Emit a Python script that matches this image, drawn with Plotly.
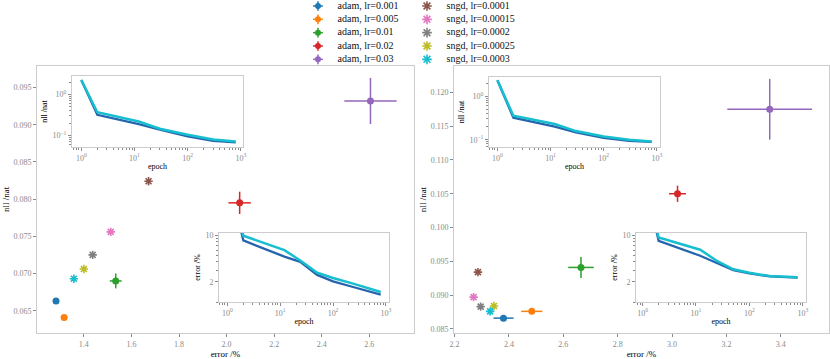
import plotly.graph_objects as go

# ---- data ----
adam_labels = ["adam, lr=0.001", "adam, lr=0.005", "adam, lr=0.01", "adam, lr=0.02", "adam, lr=0.03"]
sngd_labels = ["sngd, lr=0.0001", "sngd, lr=0.00015", "sngd, lr=0.0002", "sngd, lr=0.00025", "sngd, lr=0.0003"]
adam_colors = ["#1f77b4", "#ff7f0e", "#2ca02c", "#d62728", "#9467bd"]
sngd_colors = ["#8c564b", "#e377c2", "#7f7f7f", "#bcbd22", "#17becf"]

# left panel: final error /% and nll /nat
left_adam_err = [1.283, 1.317, 1.534, 2.055, 2.605]
left_adam_nll = [0.0663, 0.0641, 0.0690, 0.0795, 0.0932]
left_adam_err_sd = [0.006, 0.006, 0.025, 0.047, 0.11]
left_adam_nll_sd = [0.0002, 0.0002, 0.0010, 0.0015, 0.0031]
left_sngd_err = [1.672, 1.513, 1.437, 1.400, 1.358]
left_sngd_nll = [0.0824, 0.0756, 0.0725, 0.0706, 0.0693]

# right panel
right_adam_err = [2.380, 2.484, 2.665, 3.020, 3.359]
right_adam_nll = [0.0866, 0.0876, 0.0941, 0.1050, 0.1175]
right_adam_err_sd = [0.037, 0.039, 0.047, 0.031, 0.156]
right_adam_nll_sd = [0.0002, 0.0004, 0.00155, 0.0012, 0.0045]
right_sngd_err = [2.286, 2.270, 2.296, 2.345, 2.331]
right_sngd_nll = [0.0934, 0.0897, 0.0883, 0.0884, 0.0876]

# inset training curves
nll_epochs = [1, 2, 12, 30, 100, 300, 800]
left_nll_adam = [2.28, 0.32, 0.19, 0.138, 0.095, 0.074, 0.0675]
left_nll_sngd = [2.28, 0.37, 0.22, 0.146, 0.104, 0.080, 0.0715]
right_nll_adam = [2.31, 0.32, 0.20, 0.147, 0.111, 0.095, 0.089]
right_nll_sngd = [2.31, 0.355, 0.23, 0.158, 0.119, 0.100, 0.091]

err_epochs = [1, 2, 12, 24, 50, 100, 240, 800]
left_errc_adam = [88, 8.4, 4.8, 4.0, 2.55, 2.04, 1.68, 1.29]
left_errc_sngd = [88, 9.9, 6.0, 4.2, 2.75, 2.29, 1.89, 1.41]
right_errc_adam = [88, 8.3, 4.95, 3.85, 3.0, 2.7, 2.42, 2.33]
right_errc_sngd = [88, 9.3, 6.1, 4.2, 3.1, 2.75, 2.45, 2.36]

epoch_ticks = [1, 10, 100, 1000]
epoch_ticktext = ["10<sup>0</sup>", "10<sup>1</sup>", "10<sup>2</sup>", "10<sup>3</sup>"]
nll_ticks = [0.1, 1]
nll_ticktext = ["10<sup>\u22121</sup>", "10<sup>0</sup>"]
err_ticks = [2, 10]
err_ticktext = ["2", "10"]

FONT = "Liberation Serif, Times New Roman, serif"
GRID = "#cccccc"
TICKC = "#8a8a8a"
BLUE_CURVE = "#2565ad"
CYAN_CURVE = "#17becf"

W, H = 830, 359


def dom_x(a, b):
    return [a / W, b / W]


def dom_y(top, bottom):
    return [(H - bottom) / H, (H - top) / H]


fig = go.Figure()


def scatter_panel(xa, ya, a_err, a_nll, a_esd, a_nsd, s_err, s_nll):
    for i in range(5):
        fig.add_trace(go.Scatter(
            x=[a_err[i]], y=[a_nll[i]], mode="markers", xaxis=xa, yaxis=ya,
            marker=dict(color=adam_colors[i], size=7),
            error_x=dict(type="data", array=[a_esd[i]], color=adam_colors[i], thickness=1.5, width=0),
            error_y=dict(type="data", array=[a_nsd[i]], color=adam_colors[i], thickness=1.5, width=0),
            showlegend=False, hoverinfo="skip"))
    for i in range(5):
        fig.add_trace(go.Scatter(
            x=[s_err[i]], y=[s_nll[i]], mode="markers", xaxis=xa, yaxis=ya,
            marker=dict(symbol="asterisk-open", size=7, color=sngd_colors[i],
                        line=dict(color=sngd_colors[i], width=1.6)),
            showlegend=False, hoverinfo="skip"))


def curve_panel(xa, ya, ep, ya_vals, yb_vals):
    fig.add_trace(go.Scatter(x=ep, y=ya_vals, mode="lines", xaxis=xa, yaxis=ya,
                             line=dict(color=BLUE_CURVE, width=2.3), showlegend=False, hoverinfo="skip"))
    fig.add_trace(go.Scatter(x=ep, y=yb_vals, mode="lines", xaxis=xa, yaxis=ya,
                             line=dict(color=CYAN_CURVE, width=2.5), showlegend=False, hoverinfo="skip"))


scatter_panel("x", "y", left_adam_err, left_adam_nll, left_adam_err_sd, left_adam_nll_sd,
              left_sngd_err, left_sngd_nll)
scatter_panel("x2", "y2", right_adam_err, right_adam_nll, right_adam_err_sd, right_adam_nll_sd,
              right_sngd_err, right_sngd_nll)
curve_panel("x3", "y3", nll_epochs, left_nll_adam, left_nll_sngd)
curve_panel("x4", "y4", err_epochs, left_errc_adam, left_errc_sngd)
curve_panel("x5", "y5", nll_epochs, right_nll_adam, right_nll_sngd)
curve_panel("x6", "y6", err_epochs, right_errc_adam, right_errc_sngd)

# legend drawn on its own small axes: column 0 = adam, column 1 = sngd
rows = list(range(5))
for i in rows:
    fig.add_trace(go.Scatter(
        x=[0], y=[i], mode="markers", xaxis="x7", yaxis="y7",
        marker=dict(color=adam_colors[i], size=6),
        error_x=dict(type="constant", value=0.045, color=adam_colors[i], thickness=1.5, width=0),
        error_y=dict(type="constant", value=0.36, color=adam_colors[i], thickness=1.5, width=0),
        showlegend=False, hoverinfo="skip"))
fig.add_trace(go.Scatter(
    x=[1] * 5, y=rows, mode="markers", xaxis="x7", yaxis="y7",
    marker=dict(symbol="asterisk-open", size=8, color=sngd_colors,
                line=dict(color=sngd_colors, width=1.6)),
    showlegend=False, hoverinfo="skip"))
fig.add_trace(go.Scatter(
    x=[0.18] * 5 + [1.18] * 5, y=rows + rows, mode="text", xaxis="x7", yaxis="y7",
    text=adam_labels + sngd_labels, textposition="middle right",
    textfont=dict(family=FONT, size=10, color="#111111"), cliponaxis=False,
    showlegend=False, hoverinfo="skip"))


def frame_axis(**kw):
    base = dict(showline=True, linecolor=GRID, linewidth=1, mirror=True, showgrid=False,
                zeroline=False, ticks="outside", ticklen=3, tickwidth=1, tickcolor=TICKC,
                tickfont=dict(family=FONT, size=8, color=TICKC), automargin=False,
                title_font=dict(family=FONT, size=9, color="black"))
    base.update(kw)
    return base


def log_minor():
    return dict(ticks="outside", ticklen=2, tickwidth=0.8, tickcolor=TICKC, dtick="D1", showgrid=False)


layout = dict(
    width=W, height=H, margin=dict(l=0, r=0, t=0, b=0),
    paper_bgcolor="white", plot_bgcolor="white",
    font=dict(family=FONT),
    # main left
    xaxis=frame_axis(domain=dom_x(37, 414), anchor="y", range=[1.203, 2.788], dtick=0.2,
                     tickformat=".1f", title=dict(text="error /%", standoff=3)),
    yaxis=frame_axis(domain=dom_y(66, 333), anchor="x", range=[0.0620, 0.0979], dtick=0.005,
                     tickformat=".3f", title=dict(text="nll /nat", standoff=2)),
    # main right
    xaxis2=frame_axis(domain=dom_x(454, 829), anchor="y2", range=[2.198, 3.577], dtick=0.2,
                      tickformat=".1f", title=dict(text="error /%", standoff=3)),
    yaxis2=frame_axis(domain=dom_y(66, 333), anchor="x2", range=[0.0844, 0.1239], dtick=0.005,
                      tickformat=".3f", title=dict(text="nll /nat", standoff=2)),
    # left nll inset
    xaxis3=frame_axis(domain=dom_x(72, 243), anchor="y3", type="log", range=[-0.175, 3.04],
                      tickvals=epoch_ticks, ticktext=epoch_ticktext, minor=log_minor(),
                      title=dict(text="epoch", standoff=1, font=dict(size=8))),
    yaxis3=frame_axis(domain=dom_y(76, 147), anchor="x3", type="log", range=[-1.283, 0.456],
                      tickvals=nll_ticks, ticktext=nll_ticktext, minor=log_minor(),
                      title=dict(text="nll /nat", standoff=3, font=dict(size=8))),
    # left error inset
    xaxis4=frame_axis(domain=dom_x(219, 389), anchor="y4", type="log", range=[-0.159, 3.06],
                      tickvals=epoch_ticks, ticktext=epoch_ticktext, minor=log_minor(),
                      title=dict(text="epoch", standoff=1, font=dict(size=8))),
    yaxis4=frame_axis(domain=dom_y(233, 302), anchor="x4", type="log", range=[0, 1.036],
                      tickvals=err_ticks, ticktext=err_ticktext, minor=log_minor(),
                      title=dict(text="error /%", standoff=3, font=dict(size=8))),
    # right nll inset
    xaxis5=frame_axis(domain=dom_x(489, 660), anchor="y5", type="log", range=[-0.158, 3.06],
                      tickvals=epoch_ticks, ticktext=epoch_ticktext, minor=log_minor(),
                      title=dict(text="epoch", standoff=1, font=dict(size=8))),
    yaxis5=frame_axis(domain=dom_y(77, 147), anchor="x5", type="log", range=[-1.166, 0.439],
                      tickvals=nll_ticks, ticktext=nll_ticktext, minor=log_minor(),
                      title=dict(text="nll /nat", standoff=3, font=dict(size=8))),
    # right error inset
    xaxis6=frame_axis(domain=dom_x(636, 806), anchor="y6", type="log", range=[-0.123, 3.06],
                      tickvals=epoch_ticks, ticktext=epoch_ticktext, minor=log_minor(),
                      title=dict(text="epoch", standoff=1, font=dict(size=8))),
    yaxis6=frame_axis(domain=dom_y(233, 302), anchor="x6", type="log", range=[0, 1.036],
                      tickvals=err_ticks, ticktext=err_ticktext, minor=log_minor(),
                      title=dict(text="error /%", standoff=3, font=dict(size=8))),
    # legend axes
    xaxis7=dict(domain=dom_x(300, 560), anchor="y7", range=[-0.165, 2.22], visible=False, fixedrange=True),
    yaxis7=dict(domain=dom_y(0, 66), anchor="x7", range=[4.5, -0.45], visible=False, fixedrange=True),
    showlegend=False,
)
fig.update_layout(**layout)

# the page body has a default 8px margin; drop it so the figure fills the window exactly
fig.write_html("out.html", config={"displayModeBar": False},
               post_script="document.body.style.margin='0';")
